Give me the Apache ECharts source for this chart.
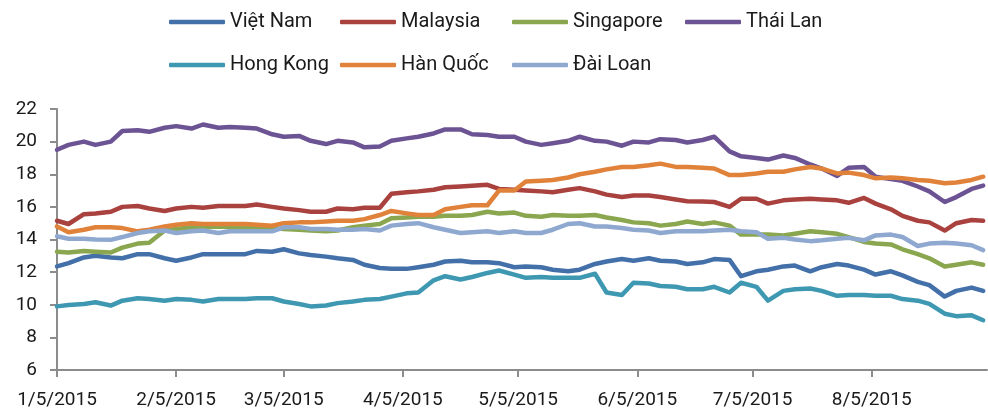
<!DOCTYPE html>
<html>
<head>
<meta charset="utf-8">
<script src="https://cdn.jsdelivr.net/npm/echarts@6/dist/echarts.min.js"></script>
<style>
  html, body { margin: 0; padding: 0; background: #fff; }
  #chart { width: 988px; height: 412px; }
</style>
</head>
<body>
<div id="chart"></div>
<script>
// trading days sampled (Mon / Thu)
var dates = [
  '2015-01-05', '2015-01-08', '2015-01-12', '2015-01-15', '2015-01-19', '2015-01-22', '2015-01-26', '2015-01-29',
  '2015-02-02', '2015-02-05', '2015-02-09', '2015-02-12', '2015-02-16', '2015-02-19', '2015-02-23', '2015-02-26',
  '2015-03-02', '2015-03-05', '2015-03-09', '2015-03-12', '2015-03-16', '2015-03-19', '2015-03-23', '2015-03-26', '2015-03-30',
  '2015-04-02', '2015-04-06', '2015-04-09', '2015-04-13', '2015-04-16', '2015-04-20', '2015-04-23', '2015-04-27', '2015-04-30',
  '2015-05-04', '2015-05-07', '2015-05-11', '2015-05-14', '2015-05-18', '2015-05-21', '2015-05-25', '2015-05-28',
  '2015-06-01', '2015-06-04', '2015-06-08', '2015-06-11', '2015-06-15', '2015-06-18', '2015-06-22', '2015-06-25', '2015-06-29',
  '2015-07-02', '2015-07-06', '2015-07-09', '2015-07-13', '2015-07-16', '2015-07-20', '2015-07-23', '2015-07-27', '2015-07-30',
  '2015-08-03', '2015-08-06', '2015-08-10', '2015-08-13', '2015-08-17', '2015-08-20', '2015-08-24', '2015-08-27', '2015-08-31',
  '2015-09-03'
]
var axisEnd = '2015-09-04'
var tickLabels = ['1/5/2015', '2/5/2015', '3/5/2015', '4/5/2015', '5/5/2015', '6/5/2015', '7/5/2015', '8/5/2015']
var yTicks = [6, 8, 10, 12, 14, 16, 18, 20, 22]

var vietNam = [
  12.35, 12.55, 12.9, 13.0, 12.9, 12.85, 13.1, 13.1,
  12.85, 12.7, 12.9, 13.1, 13.1, 13.1, 13.1, 13.3,
  13.25, 13.4, 13.15, 13.05, 12.95, 12.85, 12.75, 12.45, 12.25,
  12.2, 12.2, 12.3, 12.45, 12.65, 12.7, 12.6, 12.6, 12.55,
  12.3, 12.35, 12.3, 12.15, 12.05, 12.15, 12.5, 12.65,
  12.8, 12.7, 12.85, 12.7, 12.65, 12.5, 12.6, 12.8, 12.75,
  11.75, 12.05, 12.15, 12.35, 12.4, 12.05, 12.3, 12.5, 12.4,
  12.15, 11.85, 12.05, 11.8, 11.4, 11.2, 10.5, 10.85, 11.05,
  10.85
]
var malaysia = [
  15.15, 14.95, 15.55, 15.6, 15.7, 16.0, 16.05, 15.9,
  15.75, 15.9, 16.0, 15.95, 16.05, 16.05, 16.05, 16.15,
  16.0, 15.9, 15.8, 15.7, 15.7, 15.9, 15.85, 15.95, 15.95,
  16.8, 16.9, 16.95, 17.05, 17.2, 17.25, 17.3, 17.35, 17.1,
  17.05, 17.0, 16.95, 16.9, 17.05, 17.15, 16.95, 16.75,
  16.6, 16.7, 16.7, 16.6, 16.45, 16.35, 16.33, 16.3, 16.0,
  16.5, 16.5, 16.2, 16.4, 16.45, 16.5, 16.45, 16.4, 16.25,
  16.55, 16.2, 15.85, 15.45, 15.15, 15.05, 14.55, 15.0, 15.2,
  15.15
]
var singapore = [
  13.25, 13.2, 13.3, 13.25, 13.2, 13.5, 13.75, 13.8,
  14.55, 14.65, 14.75, 14.75, 14.8, 14.75, 14.75, 14.75,
  14.7, 14.65, 14.6, 14.55, 14.5, 14.55, 14.75, 14.85, 14.95,
  15.3, 15.35, 15.4, 15.4, 15.45, 15.45, 15.5, 15.7, 15.6,
  15.65, 15.45, 15.4, 15.5, 15.45, 15.45, 15.5, 15.35,
  15.2, 15.05, 15.0, 14.85, 14.95, 15.1, 14.95, 15.05, 14.85,
  14.3, 14.3, 14.3, 14.25, 14.35, 14.5, 14.45, 14.35, 14.15,
  13.85, 13.75, 13.7, 13.4, 13.1, 12.85, 12.35, 12.45, 12.6,
  12.45
]
var thaiLan = [
  19.5, 19.8, 20.0, 19.8, 20.0, 20.65, 20.7, 20.6,
  20.85, 20.95, 20.8, 21.05, 20.85, 20.9, 20.85, 20.8,
  20.45, 20.3, 20.35, 20.05, 19.85, 20.05, 19.95, 19.65, 19.7,
  20.05, 20.2, 20.3, 20.5, 20.75, 20.75, 20.45, 20.4, 20.3,
  20.3, 20.0, 19.8, 19.9, 20.05, 20.3, 20.05, 20.0,
  19.75, 20.0, 19.95, 20.15, 20.1, 19.95, 20.1, 20.3, 19.4,
  19.1, 19.0, 18.9, 19.15, 19.0, 18.6, 18.35, 17.9, 18.4,
  18.45, 17.85, 17.7, 17.6, 17.25, 16.95, 16.3, 16.6, 17.1,
  17.3
]
var hongKong = [
  9.9, 9.98, 10.05, 10.15, 9.95, 10.25, 10.4, 10.35,
  10.25, 10.35, 10.3, 10.2, 10.35, 10.35, 10.35, 10.4,
  10.4, 10.2, 10.05, 9.9, 9.95, 10.1, 10.2, 10.3, 10.35,
  10.5, 10.7, 10.75, 11.5, 11.75, 11.55, 11.7, 11.95, 12.1,
  11.85, 11.65, 11.7, 11.65, 11.65, 11.65, 11.9, 10.75,
  10.6, 11.35, 11.3, 11.15, 11.1, 10.95, 10.95, 11.1, 10.75,
  11.35, 11.1, 10.25, 10.85, 10.95, 11.0, 10.85, 10.55, 10.6,
  10.6, 10.55, 10.55, 10.35, 10.25, 10.05, 9.45, 9.3, 9.35,
  9.05
]
var hanQuoc = [
  14.8, 14.45, 14.6, 14.75, 14.75, 14.7, 14.5, 14.6,
  14.8, 14.9, 15.0, 14.95, 14.95, 14.95, 14.95, 14.9,
  14.85, 15.0, 15.05, 15.05, 15.1, 15.15, 15.15, 15.25, 15.5,
  15.75, 15.6, 15.5, 15.5, 15.85, 16.0, 16.1, 16.1, 17.0,
  17.0, 17.55, 17.6, 17.65, 17.8, 18.0, 18.15, 18.3,
  18.45, 18.45, 18.55, 18.65, 18.45, 18.45, 18.4, 18.35, 17.95,
  17.95, 18.05, 18.15, 18.15, 18.3, 18.45, 18.35, 18.05, 18.1,
  17.95, 17.75, 17.8, 17.75, 17.65, 17.6, 17.45, 17.5, 17.65,
  17.85
]
var daiLoan = [
  14.2, 14.05, 14.05, 14.0, 13.98, 14.15, 14.4, 14.5,
  14.55, 14.4, 14.5, 14.55, 14.4, 14.5, 14.5, 14.5,
  14.5, 14.75, 14.75, 14.65, 14.65, 14.6, 14.6, 14.65, 14.55,
  14.85, 14.95, 15.0, 14.75, 14.6, 14.4, 14.45, 14.5, 14.4,
  14.5, 14.4, 14.4, 14.6, 14.95, 15.0, 14.8, 14.8,
  14.7, 14.6, 14.55, 14.4, 14.5, 14.5, 14.5, 14.55, 14.6,
  14.5, 14.45, 14.05, 14.1, 14.0, 13.9, 13.95, 14.05, 14.1,
  13.95, 14.25, 14.3, 14.15, 13.6, 13.75, 13.8, 13.75, 13.65,
  13.35
]

var names = ['Việt Nam', 'Malaysia', 'Singapore', 'Thái Lan', 'Hong Kong', 'Hàn Quốc', 'Đài Loan']
var values = [vietNam, malaysia, singapore, thaiLan, hongKong, hanQuoc, daiLoan]
var colors = ['#4470A9', '#A9423F', '#8AA74F', '#6C5494', '#3F98B2', '#E0823A', '#8FA8D0']

function ymd (s) {
  var p = s.split('-')
  return Date.UTC(+p[0], p[1] - 1, +p[2])
}
function mdy (s) {
  var p = s.split('/')
  return Date.UTC(+p[2], p[0] - 1, +p[1])
}
var times = dates.map(ymd)
var ticks = tickLabels.map(mdy)

var font = 'Roboto'
var ink = '#1a1a1a'
var axisGray = '#8c8c8c'

// legend laid out in two rows / four columns like the original
var legendLeft = [169, 340, 512, 685, 169, 340, 512]
var legendTop = [12, 12, 12, 12, 55, 55, 55]
var legends = names.map(function (n, i) {
  return {
    data: [n],
    left: legendLeft[i],
    top: legendTop[i],
    icon: 'roundRect',
    itemWidth: 56,
    itemHeight: 4.5,
    itemGap: 0,
    padding: 0,
    selectedMode: false,
    textStyle: { fontFamily: font, fontSize: 20, color: ink }
  }
})

var option = {
  animation: false,
  color: colors,
  legend: legends,
  grid: { left: 57, right: 1, top: 109, bottom: 42 },
  xAxis: {
    type: 'value',
    min: times[0],
    max: ymd(axisEnd),
    axisLine: { show: true, onZero: false, lineStyle: { color: axisGray, width: 2 } },
    axisTick: { show: true, customValues: ticks, length: 7, lineStyle: { color: axisGray, width: 2 } },
    axisLabel: {
      customValues: ticks,
      margin: 21,
      fontFamily: font,
      fontSize: 19,
      color: ink,
      formatter: function (v) {
        var best = 0
        for (var i = 1; i < ticks.length; i++) {
          if (Math.abs(ticks[i] - v) < Math.abs(ticks[best] - v)) best = i
        }
        return tickLabels[best]
      }
    },
    splitLine: { show: false }
  },
  yAxis: {
    type: 'value',
    min: yTicks[0],
    max: yTicks[yTicks.length - 1],
    interval: yTicks[1] - yTicks[0],
    axisLine: { show: true, lineStyle: { color: axisGray, width: 2 } },
    axisTick: { show: true, length: 7, lineStyle: { color: axisGray, width: 2 } },
    axisLabel: { margin: 20, fontFamily: font, fontSize: 19, color: ink },
    splitLine: { show: false }
  },
  series: names.map(function (n, i) {
    return {
      name: n,
      type: 'line',
      symbol: 'none',
      smooth: false,
      lineStyle: { width: 4.5, color: colors[i], cap: 'round', join: 'round' },
      itemStyle: { color: colors[i] },
      data: times.map(function (t, k) { return [t, values[i][k]] })
    }
  })
}

var myChart = echarts.init(document.getElementById('chart'))
myChart.setOption(option)
</script>
</body>
</html>
